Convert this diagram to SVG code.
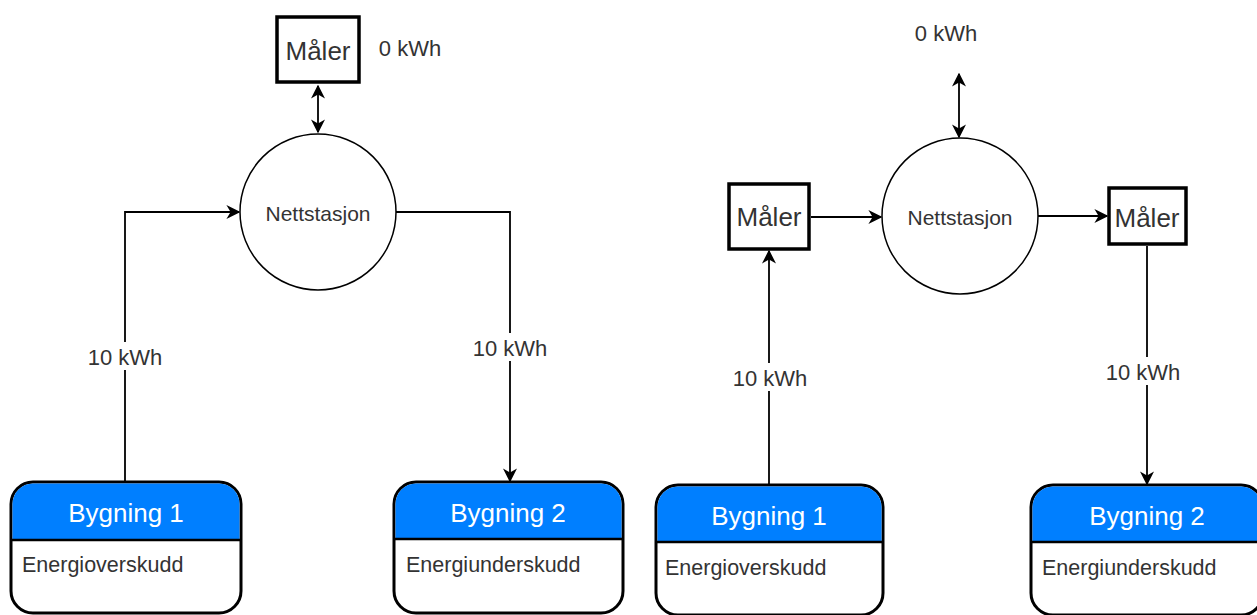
<svg xmlns="http://www.w3.org/2000/svg" width="1257" height="615" viewBox="0 0 1257 615">
<defs>
<marker id="arr" viewBox="0 0 10 10" refX="9" refY="5" markerWidth="14" markerHeight="14" markerUnits="userSpaceOnUse" orient="auto-start-reverse">
<path d="M0,0 L10,5 L0,10 L3,5 Z" fill="#000"/>
</marker>
</defs>
<style>
text{font-family:"Liberation Sans",Arial,sans-serif;fill:#333}
.lbl{font-size:22px;text-anchor:middle}
.meter rect{fill:#fff;stroke:#000;stroke-width:3.5}
.meter text{font-size:26px;text-anchor:middle}
.station circle{fill:#fff;stroke:#000;stroke-width:1.5}
.station text{font-size:21px;text-anchor:middle}
.bld .body{fill:#fff;stroke:#000;stroke-width:3}
.bld .head{fill:#007FFF;stroke:none}
.bld line{stroke:#000;stroke-width:2.5}
.bld .title{font-size:26px;fill:#fff;text-anchor:middle}
.bld .desc{font-size:21.5px}
.conn path{fill:none;stroke:#000;stroke-width:1.8}
.bg{fill:#fff}
</style>
<rect width="1257" height="615" fill="#fff"/>

<!-- Left diagram nodes -->
<g id="maler-left" class="meter">
<rect x="277" y="17" width="82" height="65"/>
<text x="318" y="60">Måler</text>
</g>
<g id="nettstasjon-left" class="station">
<circle cx="318" cy="212" r="78"/>
<text x="318" y="221">Nettstasjon</text>
</g>
<g id="bygning1-left" class="bld">
<rect class="body" x="11" y="482" width="230" height="131" rx="22"/>
<path class="head" d="M12.5,540 V504 A20.5,20.5 0 0 1 33,483.5 H219 A20.5,20.5 0 0 1 239.5,504 V540 Z"/>
<line x1="11" y1="540" x2="241" y2="540"/>
<text class="title" x="126" y="522">Bygning 1</text>
<text class="desc" x="22" y="572">Energioverskudd</text>
</g>
<g id="bygning2-left" class="bld">
<rect class="body" x="394" y="482" width="229" height="131" rx="22"/>
<path class="head" d="M395.5,539 V504 A20.5,20.5 0 0 1 416,483.5 H601 A20.5,20.5 0 0 1 621.5,504 V539 Z"/>
<line x1="394" y1="539" x2="623" y2="539"/>
<text class="title" x="508" y="522">Bygning 2</text>
<text class="desc" x="406" y="572">Energiunderskudd</text>
</g>
<text id="kwh0-left" class="lbl" x="410" y="56">0 kWh</text>

<!-- Right diagram nodes -->
<g id="maler-right-in" class="meter">
<rect x="729" y="184" width="80" height="65"/>
<text x="769" y="226">Måler</text>
</g>
<g id="nettstasjon-right" class="station">
<circle cx="960" cy="216" r="78"/>
<text x="960" y="225">Nettstasjon</text>
</g>
<g id="maler-right-out" class="meter">
<rect x="1109" y="188" width="77" height="56"/>
<text x="1147" y="227">Måler</text>
</g>
<g id="bygning1-right" class="bld">
<rect class="body" x="656" y="485" width="227" height="130" rx="22"/>
<path class="head" d="M657.5,542 V507 A20.5,20.5 0 0 1 678,486.5 H861 A20.5,20.5 0 0 1 881.5,507 V542 Z"/>
<line x1="656" y1="542" x2="883" y2="542"/>
<text class="title" x="769" y="525">Bygning 1</text>
<text class="desc" x="665" y="575">Energioverskudd</text>
</g>
<g id="bygning2-right" class="bld">
<rect class="body" x="1031" y="485" width="232" height="130" rx="22"/>
<path class="head" d="M1032.5,542 V507 A20.5,20.5 0 0 1 1053,486.5 H1241 A20.5,20.5 0 0 1 1261.5,507 V542 Z"/>
<line x1="1031" y1="542" x2="1263" y2="542"/>
<text class="title" x="1147" y="525">Bygning 2</text>
<text class="desc" x="1042" y="575">Energiunderskudd</text>
</g>
<text id="kwh0-right" class="lbl" x="946" y="41">0 kWh</text>

<!-- Connectors -->
<g id="connectors" class="conn">
<path d="M318,86 V132" marker-start="url(#arr)" marker-end="url(#arr)"/>
<path d="M125,482 V212 H239" marker-end="url(#arr)"/>
<path d="M396,212 H510 V481" marker-end="url(#arr)"/>
<path d="M959,74 V137" marker-start="url(#arr)" marker-end="url(#arr)"/>
<path d="M769,485 V251" marker-end="url(#arr)"/>
<path d="M811,217 H881" marker-end="url(#arr)"/>
<path d="M1038,216 H1107" marker-end="url(#arr)"/>
<path d="M1147,246 V484" marker-end="url(#arr)"/>
<g id="edge-labels">
<rect class="bg" x="86" y="342" width="78" height="28"/>
<text class="lbl" x="125" y="365">10 kWh</text>
<rect class="bg" x="471" y="333" width="78" height="28"/>
<text class="lbl" x="510" y="356">10 kWh</text>
<rect class="bg" x="731" y="363" width="78" height="28"/>
<text class="lbl" x="770" y="386">10 kWh</text>
<rect class="bg" x="1104" y="357" width="78" height="28"/>
<text class="lbl" x="1143" y="380">10 kWh</text>
</g>
</g>
</svg>
